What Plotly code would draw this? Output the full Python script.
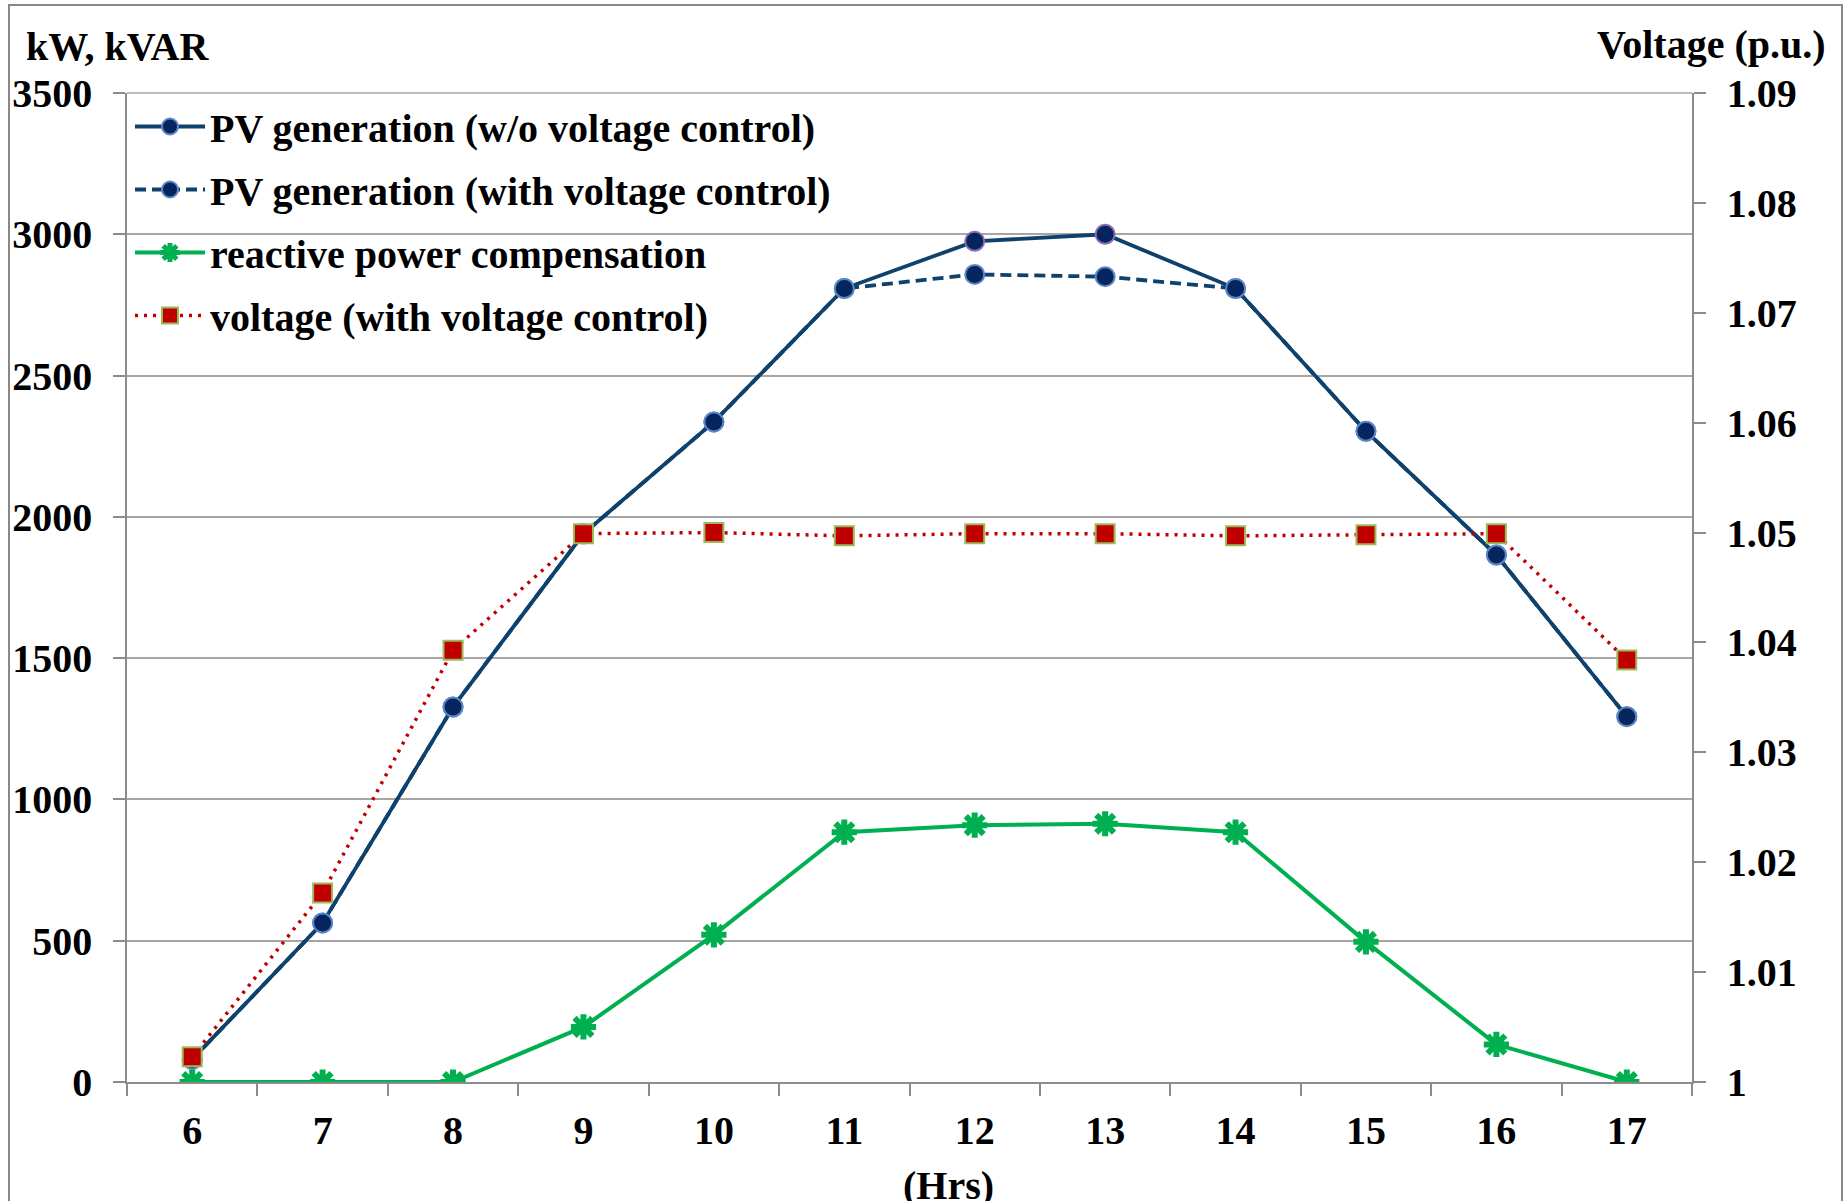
import plotly.graph_objects as go

# Hourly profile (hours of the day)
hours = ["6", "7", "8", "9", "10", "11", "12", "13", "14", "15", "16", "17"]

# PV active power output, kW
pv_without_control = [80, 563, 1327, 1940, 2336, 2808, 2975, 3000, 2808, 2303, 1865, 1293]
pv_with_control = [80, 563, 1327, 1940, 2336, 2808, 2858, 2850, 2808, 2303, 1865, 1293]

# Reactive power compensation, kVAR
reactive_comp = [0, 0, 0, 195, 521, 884, 909, 914, 884, 496, 133, 0]

# Bus voltage with voltage control, p.u.
voltage_ctrl = [1.0023, 1.0172, 1.0393, 1.0499, 1.0500, 1.0497, 1.0499, 1.0499, 1.0497, 1.0498, 1.0499, 1.0384]

left_ticks = [0, 500, 1000, 1500, 2000, 2500, 3000, 3500]
right_ticks = [1.00, 1.01, 1.02, 1.03, 1.04, 1.05, 1.06, 1.07, 1.08, 1.09]
right_tick_text = ["1", "1.01", "1.02", "1.03", "1.04", "1.05", "1.06", "1.07", "1.08", "1.09"]

FONT = "Liberation Serif"
FS = 40
NAVY_LINE = "#0E416C"
NAVY_FILL = "#06245E"
BLUE_EDGE = "#5B87C5"
PURPLE_EDGE = "#8C6BB0"
GREEN = "#00B050"
RED = "#C00000"
OLIVE_EDGE = "#9BBB59"
AXIS_GREY = "#8C8C8C"
GRID_GREY = "#A6A6A6"

W, H = 1846, 1201
L, R, T, B = 127, 154, 93, 119
pw, ph = W - L - R, H - T - B


def px_x(x):
    return (x - L) / pw


def px_y(y):
    return (H - B - y) / ph


fig = go.Figure()

fig.add_trace(go.Scatter(
    x=hours, y=pv_without_control,
    name="PV generation (w/o voltage control)", legendgroup="a",
    mode="lines+markers",
    line=dict(color=NAVY_LINE, width=3.8),
    marker=dict(symbol="circle", size=19, color=NAVY_FILL,
                line=dict(width=2, color=[BLUE_EDGE] * 6 + [PURPLE_EDGE] * 2 + [BLUE_EDGE] * 4)),
))
fig.add_trace(go.Scatter(
    x=hours, y=pv_with_control,
    name="PV generation (with voltage control)", legendgroup="b",
    mode="lines+markers",
    line=dict(color=NAVY_LINE, width=3.8, dash="11px,6px"),
    marker=dict(symbol="circle", size=19, color=NAVY_FILL,
                line=dict(width=2, color=BLUE_EDGE)),
))
fig.add_trace(go.Scatter(
    x=hours, y=reactive_comp,
    name="reactive power compensation", legendgroup="c",
    mode="lines+markers",
    line=dict(color=GREEN, width=4),
    marker=dict(symbol="asterisk-open", size=21, color=GREEN,
                line=dict(width=6, color=GREEN)),
))
fig.add_trace(go.Scatter(
    x=hours, y=voltage_ctrl, yaxis="y2",
    name="voltage (with voltage control)", legendgroup="d",
    mode="lines+markers",
    line=dict(color=RED, width=3.5, dash="3px,6px"),
    marker=dict(symbol="square", size=19, color=RED,
                line=dict(width=2, color=OLIVE_EDGE)),
))

tick_font = dict(family=FONT, size=FS, color="black", weight="bold")

fig.update_layout(
    width=W, height=H,
    margin=dict(l=L, r=R, t=T, b=B, autoexpand=False),
    paper_bgcolor="white", plot_bgcolor="white",
    font=dict(family=FONT, size=FS, color="black", weight="bold"),
    showlegend=True,
    legend=dict(
        x=px_x(130), y=px_y(94), xanchor="left", yanchor="top",
        bgcolor="rgba(0,0,0,0)", borderwidth=0,
        font=dict(family=FONT, size=FS, color="black", weight="bold"),
        itemwidth=70, tracegroupgap=8,
    ),
    xaxis=dict(
        type="category", tickson="boundaries", range=[-0.5, 11.5],
        showgrid=False, showline=True, linecolor=AXIS_GREY, linewidth=1.5,
        ticks="outside", ticklen=12, tickcolor=AXIS_GREY, tickwidth=1.5,
        tickfont=tick_font, ticklabelstandoff=12,
        zeroline=False,
    ),
    yaxis=dict(
        range=[0, 3500], tickvals=left_ticks,
        showgrid=True, gridcolor=GRID_GREY, gridwidth=1.5,
        showline=True, linecolor=AXIS_GREY, linewidth=1.5,
        ticks="outside", ticklen=12, tickcolor=AXIS_GREY, tickwidth=1.5,
        tickfont=tick_font, ticklabelstandoff=13,
        zeroline=False,
    ),
    yaxis2=dict(
        overlaying="y", side="right",
        range=[1.0, 1.09], tickvals=right_ticks, ticktext=right_tick_text,
        showgrid=False, showline=True, linecolor=AXIS_GREY, linewidth=1.5,
        ticks="outside", ticklen=12, tickcolor=AXIS_GREY, tickwidth=1.5,
        tickfont=tick_font, ticklabelstandoff=13,
        zeroline=False,
    ),
    annotations=[
        dict(text="kW, kVAR", xref="paper", yref="paper",
             x=px_x(24), y=px_y(47), xanchor="left", yanchor="middle",
             showarrow=False, font=dict(family=FONT, size=FS, color="black", weight="bold")),
        dict(text="Voltage (p.u.)", xref="paper", yref="paper",
             x=px_x(1828), y=px_y(45), xanchor="right", yanchor="middle",
             showarrow=False, font=dict(family=FONT, size=FS, color="black", weight="bold")),
        dict(text="(Hrs)", xref="paper", yref="paper",
             x=px_x(948), y=px_y(1185), xanchor="center", yanchor="middle",
             showarrow=False, font=dict(family=FONT, size=FS, color="black", weight="bold")),
    ],
    shapes=[
        dict(type="rect", xref="paper", yref="paper",
             x0=px_x(9), x1=px_x(1842), y0=px_y(1215), y1=px_y(5),
             line=dict(color="#888888", width=2), fillcolor="rgba(0,0,0,0)", layer="below"),
        dict(type="line", xref="paper", yref="paper",
             x0=0, x1=1, y0=1, y1=1,
             line=dict(color=GRID_GREY, width=1.5)),
    ],
)

fig.write_html("out.html")
